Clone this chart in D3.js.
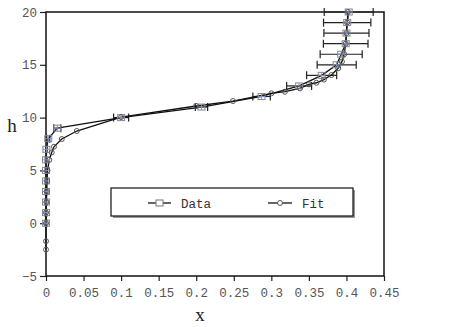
<!DOCTYPE html>
<html>
<head>
<meta charset="utf-8">
<script src="https://cdn.jsdelivr.net/npm/d3@7"></script>
<style>
  body { margin: 0; background: #fff; }
  svg { display: block; }
  .tick text { font-family: "Liberation Mono", "DejaVu Sans Mono", monospace; font-size: 12.5px; fill: #555; }
</style>
</head>
<body>
<div id="chart"></div>
<script>
// measured data: height h and fraction x, with horizontal errors
const dataH = [0, 1, 2, 3, 4, 5, 6, 7, 8, 9, 10, 11, 12, 13, 14, 15, 16, 17, 18, 19, 20];
const dataX = [0, 0, 0, 0, 0, 0, 0, 0.0005, 0.003, 0.015, 0.1, 0.207, 0.287, 0.337, 0.367, 0.387, 0.393, 0.399, 0.4, 0.401, 0.403];
const dataErr = [0.001, 0.001, 0.001, 0.001, 0.001, 0.001, 0.001, 0.001, 0.002, 0.0047, 0.01, 0.0082, 0.0116, 0.0166, 0.02, 0.026, 0.028, 0.0297, 0.03, 0.0315, 0.0326];

// fitted curve
const fitH = [-2.5, -1.7, 0, 1, 2, 3, 4, 5, 6, 6.7, 7.24, 7.97, 8.73, 10.05, 11.1, 11.57, 12.3, 12.45, 12.77, 13.15, 13.3, 13.6, 14.03, 14.67, 15.3, 16, 17, 18, 19, 20];
const fitX = [0, 0, 0, 0, 0.0005, 0.001, 0.0015, 0.002, 0.0044, 0.0076, 0.0106, 0.021, 0.041, 0.1, 0.2, 0.249, 0.3, 0.318, 0.338, 0.35, 0.36, 0.37, 0.38, 0.389, 0.394, 0.397, 0.399, 0.4, 0.401, 0.402];

// axis ticks
const xTicks = [0, 0.05, 0.1, 0.15, 0.2, 0.25, 0.3, 0.35, 0.4, 0.45];
const xTickLabels = ["0", "0.05", "0.1", "0.15", "0.2", "0.25", "0.3", "0.35", "0.4", "0.45"];
const yTicks = [-5, 0, 5, 10, 15, 20];

const seriesNames = ["Data", "Fit"];

var width = 467, height = 327;
// plot box (note: "top" is reserved on window, so use a prefix)
var plotLeft = 46, plotRight = 384, plotTop = 12, plotBottom = 276;

var svg = d3.select("#chart").append("svg")
  .attr("width", width)
  .attr("height", height);

// scales
var x = d3.scaleLinear().domain([0, 0.45]).range([plotLeft, plotRight]);
var y = d3.scaleLinear().domain([-5, 20]).range([plotBottom, plotTop]);

// axes
svg.append("g")
  .attr("transform", "translate(0," + plotBottom + ")")
  .call(d3.axisBottom(x)
    .tickValues(xTicks)
    .tickSize(5)
    .tickSizeOuter(0)
    .tickPadding(7)
    .tickFormat(function(d, i) { return xTickLabels[i]; }));

svg.append("g")
  .attr("transform", "translate(" + plotLeft + ",0)")
  .call(d3.axisLeft(y)
    .tickValues(yTicks)
    .tickSize(6)
    .tickSizeOuter(0)
    .tickPadding(3));

svg.selectAll(".domain").remove();
svg.selectAll(".tick line").attr("stroke", "#222").attr("stroke-width", 1.2);

// frame around the plot
svg.append("rect")
  .attr("x", plotLeft).attr("y", plotTop)
  .attr("width", plotRight - plotLeft).attr("height", plotBottom - plotTop)
  .attr("fill", "none")
  .attr("stroke", "#111")
  .attr("stroke-width", 1.5);

// axis titles
svg.append("text")
  .attr("x", 200).attr("y", 321)
  .attr("text-anchor", "middle")
  .attr("font-family", "Liberation Serif, serif")
  .attr("font-size", 19)
  .attr("fill", "#222")
  .text("x");

svg.append("text")
  .attr("x", 12).attr("y", 132)
  .attr("text-anchor", "middle")
  .attr("font-family", "Liberation Serif, serif")
  .attr("font-size", 19)
  .attr("fill", "#222")
  .text("h");

var line = d3.line()
  .x(function(d) { return x(d[0]); })
  .y(function(d) { return y(d[1]); });

var dataPts = dataH.map(function(h, i) { return [dataX[i], h, dataErr[i]]; });
var fitPts = fitH.map(function(h, i) { return [fitX[i], h]; });

// error bars
var errs = svg.append("g").selectAll("g")
  .data(dataPts)
  .enter().append("g")
  .attr("stroke", "#222")
  .attr("stroke-width", 1.2);

errs.append("line")
  .attr("x1", function(d) { return x(d[0] - d[2]); })
  .attr("x2", function(d) { return x(d[0] + d[2]); })
  .attr("y1", function(d) { return y(d[1]); })
  .attr("y2", function(d) { return y(d[1]); });

errs.selectAll(".cap")
  .data(function(d) { return [[d[0] - d[2], d[1]], [d[0] + d[2], d[1]]]; })
  .enter().append("line")
  .attr("class", "cap")
  .attr("x1", function(d) { return x(d[0]); })
  .attr("x2", function(d) { return x(d[0]); })
  .attr("y1", function(d) { return y(d[1]) - 4; })
  .attr("y2", function(d) { return y(d[1]) + 4; });

// lines
svg.append("path")
  .datum(dataPts)
  .attr("d", line)
  .attr("fill", "none")
  .attr("stroke", "#111")
  .attr("stroke-width", 1.3);

svg.append("path")
  .datum(fitPts)
  .attr("d", line)
  .attr("fill", "none")
  .attr("stroke", "#111")
  .attr("stroke-width", 1.3);

// data squares
svg.append("g").selectAll("rect")
  .data(dataPts)
  .enter().append("rect")
  .attr("x", function(d) { return x(d[0]) - 3.5; })
  .attr("y", function(d) { return y(d[1]) - 3; })
  .attr("width", 7).attr("height", 6)
  .attr("fill", "none")
  .attr("stroke", "#888")
  .attr("stroke-width", 1);

// blue crosses on data points
svg.append("g").selectAll("path")
  .data(dataPts)
  .enter().append("path")
  .attr("d", function(d) {
    var cx = x(d[0]), cy = y(d[1]);
    return "M" + (cx - 3.5) + "," + cy + "H" + (cx + 3.5) + "M" + cx + "," + (cy - 3) + "V" + (cy + 3);
  })
  .attr("stroke", "#7f97d2")
  .attr("stroke-width", 1);

// fit circles
svg.append("g").selectAll("circle")
  .data(fitPts)
  .enter().append("circle")
  .attr("cx", function(d) { return x(d[0]); })
  .attr("cy", function(d) { return y(d[1]); })
  .attr("r", 2.5)
  .attr("fill", "none")
  .attr("stroke", "#555")
  .attr("stroke-width", 1);

// legend
var legend = svg.append("g");

legend.append("rect")
  .attr("x", 113).attr("y", 190)
  .attr("width", 242).attr("height", 28)
  .attr("fill", "#999");

legend.append("rect")
  .attr("x", 111).attr("y", 188)
  .attr("width", 242).attr("height", 28)
  .attr("fill", "#fff")
  .attr("stroke", "#111")
  .attr("stroke-width", 1.2);

var legendX = [[148, 171, 181], [268, 292, 302]];
seriesNames.forEach(function(name, i) {
  var lx = legendX[i];
  legend.append("line")
    .attr("x1", lx[0]).attr("x2", lx[1])
    .attr("y1", 203).attr("y2", 203)
    .attr("stroke", "#111").attr("stroke-width", 1.3);
  if (i == 0) {
    legend.append("rect")
      .attr("x", 156).attr("y", 200)
      .attr("width", 7).attr("height", 6)
      .attr("fill", "#fff").attr("stroke", "#777");
  } else {
    legend.append("circle")
      .attr("cx", 280).attr("cy", 203).attr("r", 2.5)
      .attr("fill", "#fff").attr("stroke", "#555");
  }
  legend.append("text")
    .attr("x", lx[2]).attr("y", 208)
    .attr("font-family", "Liberation Mono, monospace")
    .attr("font-size", 12.5)
    .attr("fill", "#333")
    .text(name);
});
</script>
</body>
</html>
